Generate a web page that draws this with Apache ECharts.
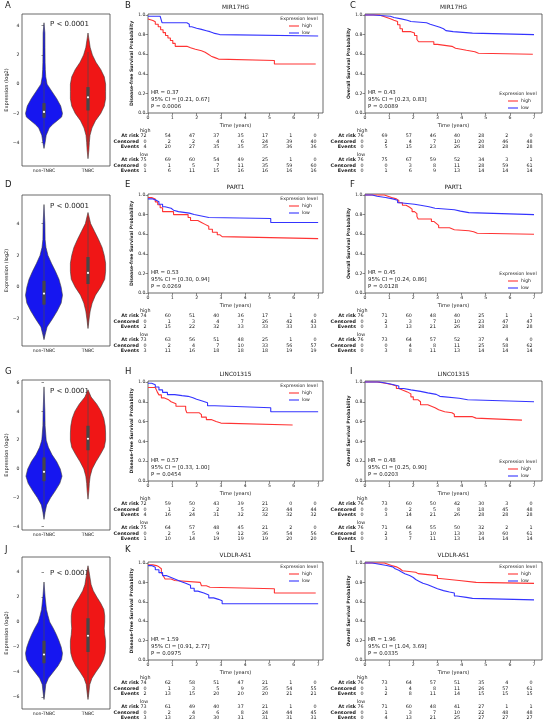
<!DOCTYPE html>
<html>
<head>
<meta charset="utf-8">
<script src="https://cdn.jsdelivr.net/npm/echarts@6/dist/echarts.min.js"></script>
<style>
html,body{margin:0;padding:0;background:#fff}
#main{width:550px;height:725px}
</style>
</head>
<body>
<div id="main"></div>
<script>
// ---- data ----
const genes = ['MIR17HG', 'PART1', 'LINC01315', 'VLDLR-AS1'];
const violinCats = ['non-TNBC', 'TNBC'];
const violinP = 'P < 0.0001';
const groups = ['high', 'low'];
const rowLabels = ['At risk', 'Censored', 'Events'];
const timeTicks = [0, 1, 2, 3, 4, 5, 6, 7];
const survTicks = [0, 0.2, 0.4, 0.6, 0.8, 1.0];

const yTicksA = [-4, -2, 0, 2, 4];
const yTicksD = [-2, 0, 2, 4];
const yTicksG = [-4, -2, 0, 2, 4, 6];
const yTicksJ = [-6, -4, -2, 0, 2, 4];

// violin outlines: [expression, half width]
const violinA_non = [[4.2,0],[3.5,0.02],[2.5,0.022],[1.5,0.025],[1,0.03],[0.5,0.04],[0,0.07],[-0.5,0.18],[-1,0.29],[-1.5,0.38],[-2,0.42],[-2.25,0.4],[-2.5,0.3],[-2.75,0.2],[-3,0.12],[-3.5,0.05],[-4,0.025],[-4.4,0]];
const violinA_tnbc = [[3.5,0],[3,0.025],[2.5,0.05],[2,0.1],[1.5,0.18],[1,0.29],[0.5,0.37],[0,0.4],[-0.5,0.4],[-1,0.4],[-1.5,0.37],[-2,0.29],[-2.5,0.17],[-3,0.09],[-3.5,0.045],[-4,0.03],[-4.5,0.02],[-5.1,0]];
const violinD_non = [[5.2,0],[4,0.02],[3,0.025],[2.5,0.045],[2,0.09],[1.5,0.17],[1,0.26],[0.5,0.34],[0,0.39],[-0.5,0.42],[-1,0.39],[-1.5,0.3],[-2,0.19],[-2.5,0.07],[-3,0.025],[-3.3,0]];
const violinD_tnbc = [[4.7,0],[4,0.06],[3.5,0.15],[3,0.24],[2.5,0.32],[2,0.37],[1.5,0.4],[1,0.4],[0.5,0.38],[0,0.29],[-0.5,0.17],[-1,0.095],[-1.5,0.05],[-2,0.025],[-2.6,0]];
const violinG_non = [[5.7,0],[4,0.02],[3,0.025],[2,0.05],[1.5,0.1],[1,0.18],[0.5,0.29],[0,0.37],[-0.5,0.41],[-1,0.36],[-1.5,0.26],[-2,0.15],[-2.5,0.06],[-3,0.025],[-3.5,0]];
const violinG_tnbc = [[5.5,0],[5,0.07],[4.5,0.2],[4,0.3],[3.5,0.36],[3,0.39],[2.5,0.4],[2,0.4],[1.5,0.37],[1,0.28],[0.5,0.18],[0,0.095],[-0.5,0.05],[-1,0.03],[-1.5,0.02],[-2.1,0]];
const violinJ_non = [[3.2,0],[2,0.025],[1,0.055],[0.5,0.09],[0,0.13],[-0.5,0.21],[-1,0.28],[-1.5,0.34],[-2,0.39],[-2.5,0.42],[-3,0.4],[-3.5,0.32],[-4,0.21],[-4.5,0.1],[-5,0.04],[-5.5,0.025],[-6.2,0]];
const violinJ_tnbc = [[4.5,0],[4,0.025],[3,0.07],[2.5,0.12],[2,0.2],[1.5,0.29],[1,0.36],[0.5,0.38],[0,0.38],[-0.5,0.37],[-1,0.38],[-1.5,0.4],[-2,0.4],[-2.5,0.39],[-3,0.35],[-3.5,0.28],[-4,0.18],[-4.5,0.09],[-5,0.04],[-5.5,0.025],[-6.2,0]];

// inner box: [whisker low, q1, median, q3, whisker high]
const boxA_non = [-3.8, -2.3, -1.9, -1.3, 0.2];
const boxA_tnbc = [-4.2, -1.8, -0.9, -0.2, 2.2];
const boxD_non = [-3.2, -1.1, -0.4, 0.4, 2.6];
const boxD_tnbc = [-2.4, 0.2, 0.9, 1.9, 4.4];
const boxG_non = [-3.3, -0.85, -0.2, 0.8, 3.3];
const boxG_tnbc = [-1.3, 1.3, 2.1, 3.0, 5.3];
const boxJ_non = [-6.0, -3.3, -2.6, -1.5, 1.2];
const boxJ_tnbc = [-6.0, -2.4, -1.1, 0.3, 4.3];

// Kaplan-Meier steps: [time, survival from this time on]
const kmB_high = [[0,0.96],[0.08,0.944],[0.2,0.93],[0.3,0.905],[0.42,0.88],[0.52,0.85],[0.62,0.82],[0.72,0.79],[0.82,0.765],[0.92,0.74],[1.02,0.71],[1.12,0.68],[1.6,0.665],[1.75,0.65],[1.95,0.635],[2.2,0.62],[2.35,0.6],[2.48,0.58],[2.6,0.565],[2.75,0.55],[2.9,0.535],[5.2,0.5],[6.9,0.5]];
const kmB_low = [[0,0.987],[0.5,0.973],[0.58,0.92],[1.6,0.905],[1.7,0.88],[1.8,0.865],[2.0,0.853],[2.2,0.84],[2.4,0.83],[2.55,0.815],[2.7,0.8],[2.95,0.785],[7.0,0.785]];
const kmC_high = [[0,1],[0.6,0.987],[0.75,0.974],[0.9,0.961],[1.05,0.947],[1.2,0.934],[1.35,0.9],[1.45,0.86],[1.55,0.83],[1.9,0.815],[2.05,0.79],[2.15,0.75],[2.22,0.727],[2.85,0.7],[3.0,0.68],[3.6,0.66],[3.75,0.64],[4.2,0.625],[4.55,0.61],[4.7,0.6],[6.95,0.6]];
const kmC_low = [[0,1],[0.35,0.987],[1.05,0.974],[1.2,0.96],[1.5,0.947],[1.75,0.934],[1.9,0.92],[2.55,0.905],[2.7,0.89],[2.9,0.875],[3.1,0.86],[3.25,0.84],[3.35,0.83],[3.65,0.815],[4.45,0.8],[7.0,0.8]];
const kmE_high = [[0,0.973],[0.15,0.96],[0.3,0.93],[0.4,0.9],[0.5,0.87],[0.6,0.83],[1.05,0.8],[1.65,0.77],[1.75,0.74],[2.05,0.72],[2.2,0.7],[2.35,0.68],[2.5,0.65],[2.65,0.62],[2.85,0.595],[2.95,0.575],[3.05,0.555],[7.0,0.555]];
const kmE_low = [[0,0.96],[0.2,0.945],[0.35,0.93],[0.45,0.905],[0.6,0.88],[0.7,0.865],[0.95,0.845],[1.05,0.83],[1.25,0.815],[1.7,0.8],[1.9,0.79],[2.1,0.78],[2.3,0.77],[2.5,0.76],[5.05,0.72],[7.0,0.72]];
const kmF_high = [[0,1],[0.8,0.987],[0.95,0.974],[1.1,0.96],[1.3,0.945],[1.4,0.92],[1.55,0.895],[1.7,0.875],[1.85,0.855],[1.95,0.83],[2.05,0.81],[2.15,0.78],[2.2,0.755],[2.75,0.73],[2.85,0.71],[2.95,0.69],[3.05,0.665],[3.5,0.645],[3.7,0.635],[4.3,0.625],[4.5,0.61],[4.65,0.6],[7.0,0.6]];
const kmF_low = [[0,1],[0.3,0.987],[0.5,0.974],[0.85,0.96],[1.15,0.947],[1.35,0.92],[1.45,0.905],[2.05,0.895],[2.3,0.88],[2.65,0.865],[2.9,0.85],[3.7,0.835],[3.95,0.82],[4.3,0.8],[7.0,0.8]];
const kmH_high = [[0,0.944],[0.3,0.93],[0.38,0.9],[0.45,0.87],[0.55,0.84],[0.65,0.82],[0.85,0.8],[0.95,0.78],[1.15,0.755],[1.55,0.72],[1.6,0.69],[2.1,0.67],[2.2,0.645],[2.4,0.62],[2.6,0.6],[2.8,0.585],[3.0,0.565],[5.95,0.565]];
const kmH_low = [[0,0.987],[0.15,0.973],[0.3,0.95],[0.45,0.92],[0.6,0.895],[0.8,0.872],[1.1,0.862],[1.4,0.855],[1.65,0.84],[1.85,0.825],[2.0,0.81],[2.2,0.79],[2.45,0.76],[2.75,0.74],[5.05,0.7],[7.0,0.7]];
const kmI_high = [[0,1],[0.5,0.987],[0.85,0.974],[1.1,0.96],[1.3,0.935],[1.4,0.92],[1.55,0.9],[1.75,0.88],[1.9,0.85],[2.0,0.82],[2.2,0.8],[2.3,0.77],[2.6,0.755],[2.75,0.74],[2.9,0.72],[3.05,0.7],[3.3,0.69],[3.6,0.675],[3.7,0.65],[4.45,0.635],[4.6,0.615],[6.5,0.615]];
const kmI_low = [[0,1],[0.6,0.987],[0.9,0.974],[1.15,0.96],[1.4,0.935],[1.6,0.92],[1.9,0.905],[2.3,0.89],[2.6,0.875],[2.95,0.855],[3.1,0.835],[3.9,0.82],[4.25,0.8],[7.0,0.8]];
const kmK_high = [[0,0.98],[0.2,0.973],[0.35,0.96],[0.45,0.94],[0.55,0.9],[0.62,0.87],[0.7,0.835],[0.95,0.82],[1.1,0.8],[2.15,0.785],[2.2,0.765],[2.4,0.75],[2.55,0.735],[5.2,0.69],[6.9,0.69]];
const kmK_low = [[0,0.973],[0.15,0.956],[0.3,0.93],[0.45,0.9],[0.6,0.87],[0.75,0.85],[0.95,0.83],[1.15,0.81],[1.35,0.79],[1.55,0.77],[1.75,0.74],[1.9,0.71],[2.05,0.69],[2.3,0.67],[2.5,0.64],[2.7,0.625],[2.9,0.61],[3.05,0.58],[7.0,0.58]];
const kmL_high = [[0,1],[0.8,0.987],[0.95,0.974],[1.1,0.96],[1.3,0.94],[1.45,0.92],[1.55,0.905],[2.1,0.89],[2.2,0.87],[3.0,0.84],[3.1,0.82],[3.9,0.8],[4.6,0.79],[7.0,0.79]];
const kmL_low = [[0,1],[0.3,0.987],[0.6,0.974],[0.9,0.96],[1.15,0.94],[1.25,0.925],[1.4,0.91],[1.5,0.89],[1.65,0.87],[1.85,0.85],[2.0,0.83],[2.1,0.81],[2.25,0.79],[2.4,0.775],[2.6,0.755],[2.8,0.735],[3.0,0.715],[3.25,0.7],[3.5,0.69],[3.7,0.66],[3.8,0.645],[4.2,0.635],[4.45,0.62],[7.0,0.62]];

// number-at-risk tables: [at risk], [censored], [events]
const riskB_high = [[72,54,47,37,35,17,1,0],[0,2,2,4,6,24,39,40],[4,20,27,35,35,35,36,36]];
const riskB_low  = [[75,69,60,54,49,25,1,0],[0,1,5,7,11,35,59,60],[1,6,11,15,16,16,16,16]];
const riskC_high = [[76,69,57,46,40,28,2,0],[0,2,4,7,10,20,46,48],[0,5,15,23,26,28,28,28]];
const riskC_low  = [[76,75,67,59,52,34,3,1],[0,0,3,8,11,28,59,61],[0,1,6,9,13,14,14,14]];
const riskE_high = [[74,60,51,40,36,17,1,0],[0,1,3,4,7,26,42,43],[2,15,22,32,33,33,33,33]];
const riskE_low  = [[73,63,56,51,48,25,1,0],[0,2,4,7,10,33,56,57],[3,11,16,18,18,18,19,19]];
const riskF_high = [[76,71,60,48,40,25,1,1],[0,2,3,7,10,23,47,47],[0,3,13,21,26,28,28,28]];
const riskF_low  = [[76,73,64,57,52,37,4,0],[0,0,4,8,11,25,58,62],[0,3,8,11,13,14,14,14]];
const riskH_high = [[72,59,50,43,39,21,0,0],[0,1,2,2,5,23,44,44],[4,16,24,31,32,32,32,32]];
const riskH_low  = [[75,64,57,48,45,21,2,0],[0,2,5,9,12,36,54,56],[1,10,14,19,19,19,20,20]];
const riskI_high = [[76,73,60,50,42,30,3,0],[0,0,2,5,8,18,45,48],[0,3,14,21,26,28,28,28]];
const riskI_low  = [[76,71,64,55,50,32,2,1],[0,2,5,10,13,30,60,61],[0,3,7,11,13,14,14,14]];
const riskK_high = [[74,62,58,51,47,21,1,0],[0,1,3,5,9,35,54,55],[2,13,15,20,20,20,21,21]];
const riskK_low  = [[73,61,49,40,37,21,1,0],[0,2,4,6,8,24,44,45],[3,13,23,30,31,31,31,31]];
const riskL_high = [[76,73,64,57,51,35,4,0],[0,1,4,8,11,26,57,61],[0,2,8,11,14,15,15,15]];
const riskL_low  = [[76,71,60,48,41,27,1,1],[0,1,3,7,10,22,48,48],[0,4,13,21,25,27,27,27]];

const statsB = ['HR = 0.37', '95% CI = [0.21, 0.67]', 'P = 0.0006'];
const statsC = ['HR = 0.43', '95% CI = [0.23, 0.83]', 'P = 0.0089'];
const statsE = ['HR = 0.53', '95% CI = [0.30, 0.94]', 'P = 0.0269'];
const statsF = ['HR = 0.45', '95% CI = [0.24, 0.86]', 'P = 0.0128'];
const statsH = ['HR = 0.57', '95% CI = [0.33, 1.00]', 'P = 0.0454'];
const statsI = ['HR = 0.48', '95% CI = [0.25, 0.90]', 'P = 0.0203'];
const statsK = ['HR = 1.59', '95% CI = [0.91, 2.77]', 'P = 0.0975'];
const statsL = ['HR = 1.96', '95% CI = [1.04, 3.69]', 'P = 0.0335'];

// ---- layout ----
const FONT = 'DejaVu Sans';
const INK = '#1a1a1a';
const FRAME = '#444';
const violinFill = ['#1616f0', '#f01616'];
const kmColor = ['#ff3434', '#3434ff'];
const DFS = 'Disease-free Survival Probability';
const OS = 'Overall Survival Probability';

const vTop = [14, 195, 380, 557], vBot = [166, 346, 530, 709];
const kTop = [14, 194, 381, 562], kBot = [113, 293, 481, 660];
const letterY = [6, 185, 372, 550];
const pY = [24, 206, 391, 573];

const rows = [
  { letters: ['A','B','C'], ticks: yTicksA, range: [-5.6, 4.8], prof: [violinA_non, violinA_tnbc], box: [boxA_non, boxA_tnbc],
    km: [ { curves: [kmB_high, kmB_low], risk: [riskB_high, riskB_low], stats: statsB, yName: DFS, leg: 'upper' },
          { curves: [kmC_high, kmC_low], risk: [riskC_high, riskC_low], stats: statsC, yName: OS, leg: 'lower' } ] },
  { letters: ['D','E','F'], ticks: yTicksD, range: [-3.7, 5.8], prof: [violinD_non, violinD_tnbc], box: [boxD_non, boxD_tnbc],
    km: [ { curves: [kmE_high, kmE_low], risk: [riskE_high, riskE_low], stats: statsE, yName: DFS, leg: 'upper' },
          { curves: [kmF_high, kmF_low], risk: [riskF_high, riskF_low], stats: statsF, yName: OS, leg: 'lower' } ] },
  { letters: ['G','H','I'], ticks: yTicksG, range: [-4.24, 6.18], prof: [violinG_non, violinG_tnbc], box: [boxG_non, boxG_tnbc],
    km: [ { curves: [kmH_high, kmH_low], risk: [riskH_high, riskH_low], stats: statsH, yName: DFS, leg: 'upper' },
          { curves: [kmI_high, kmI_low], risk: [riskI_high, riskI_low], stats: statsI, yName: OS, leg: 'lower' } ] },
  { letters: ['J','K','L'], ticks: yTicksJ, range: [-6.96, 5.2], prof: [violinJ_non, violinJ_tnbc], box: [boxJ_non, boxJ_tnbc],
    km: [ { curves: [kmK_high, kmK_low], risk: [riskK_high, riskK_low], stats: statsK, yName: DFS, leg: 'upper' },
          { curves: [kmL_high, kmL_low], risk: [riskL_high, riskL_low], stats: statsL, yName: OS, leg: 'upper' } ] }
];

const kmLeft = [148, 365], kmWidth = [175, 177], kmMax = [7.2, 7.33];

function fmtNum(v) { return v < 0 ? '\u2212' + Math.abs(v) : String(v); }

function tickStyle(vals) {
  return { customValues: vals, length: 2.5, lineStyle: { color: FRAME, width: 0.6 } };
}
function labelStyle(vals, fmt, margin) {
  return { customValues: vals, formatter: fmt, fontSize: 4.6, color: INK, fontFamily: FONT, margin: margin };
}

function makeViolin(profs, boxes) {
  return function (params, api) {
    const i = params.dataIndex;
    const prof = profs[i], box = boxes[i];
    const right = prof.map(p => api.coord([i + p[1], p[0]]));
    const left = prof.slice().reverse().map(p => api.coord([i - p[1], p[0]]));
    const c = v => api.coord([i, v]);
    const lo = c(box[0]), q1 = c(box[1]), md = c(box[2]), q3 = c(box[3]), hi = c(box[4]);
    return { type: 'group', children: [
      { type: 'polygon', shape: { points: right.concat(left) },
        style: { fill: violinFill[i], stroke: '#3a3a3a', lineWidth: 0.6, lineJoin: 'round' } },
      { type: 'line', shape: { x1: lo[0], y1: lo[1], x2: hi[0], y2: hi[1] }, style: { stroke: '#4a4a4a', lineWidth: 0.7 } },
      { type: 'rect', shape: { x: q3[0] - 1.6, y: q3[1], width: 3.2, height: q1[1] - q3[1] }, style: { fill: '#474747' } },
      { type: 'circle', shape: { cx: md[0], cy: md[1], r: 1.1 }, style: { fill: '#fff' } }
    ] };
  };
}

const option = {
  animation: false,
  backgroundColor: '#fff',
  textStyle: { fontFamily: FONT },
  grid: [], xAxis: [], yAxis: [], series: []
};
const kmGrids = [];

rows.forEach((row, r) => {
  const gi = option.grid.length;
  option.grid.push({ left: 22, top: vTop[r], width: 88, height: vBot[r] - vTop[r], show: true,
    borderColor: FRAME, borderWidth: 0.8, outerBoundsMode: 'none' });
  option.xAxis.push({ type: 'value', gridIndex: gi, min: -0.5, max: 1.5,
    axisLine: { show: false }, splitLine: { show: false },
    axisTick: tickStyle([0, 1]), axisLabel: labelStyle([0, 1], v => violinCats[Math.round(v)], 2) });
  option.yAxis.push({ type: 'value', gridIndex: gi, min: row.range[0], max: row.range[1],
    axisLine: { show: false }, splitLine: { show: false },
    axisTick: tickStyle(row.ticks), axisLabel: labelStyle(row.ticks, fmtNum, 2.5),
    name: 'Expression (log2)', nameLocation: 'middle', nameGap: 6.5,
    nameTextStyle: { fontSize: 5, color: INK, fontFamily: FONT } });
  option.series.push({ type: 'custom', xAxisIndex: gi, yAxisIndex: gi, silent: true,
    data: [[0, 0], [1, 0]], renderItem: makeViolin(row.prof, row.box) });

  row.km.forEach((k, c) => {
    const kg = option.grid.length;
    option.grid.push({ left: kmLeft[c], top: kTop[r], width: kmWidth[c], height: kBot[r] - kTop[r], show: true,
      borderColor: FRAME, borderWidth: 0.8, outerBoundsMode: 'none' });
    option.xAxis.push({ type: 'value', gridIndex: kg, min: 0, max: kmMax[c],
      axisLine: { show: false }, splitLine: { show: false },
      axisTick: tickStyle(timeTicks), axisLabel: labelStyle(timeTicks, v => String(v), 2.5),
      name: 'Time (years)', nameLocation: 'middle', nameGap: 10,
      nameTextStyle: { fontSize: 5, color: INK, fontFamily: FONT } });
    option.yAxis.push({ type: 'value', gridIndex: kg, min: 0, max: 1.01,
      axisLine: { show: false }, splitLine: { show: false },
      axisTick: tickStyle(survTicks), axisLabel: labelStyle(survTicks, v => v.toFixed(1), 2.5),
      name: k.yName, nameLocation: 'middle', nameGap: 13,
      nameTextStyle: { fontSize: 4.6, color: INK, fontFamily: FONT, fontWeight: 'bold' } });
    k.curves.forEach((curve, j) => {
      option.series.push({ type: 'line', name: groups[j], xAxisIndex: kg, yAxisIndex: kg, data: curve,
        step: 'end', showSymbol: false, silent: true,
        lineStyle: { color: kmColor[j], width: 1.1 } });
    });
    kmGrids.push({ gi: kg, r: r, c: c, k: k });
  });
});

const chart = echarts.init(document.getElementById('main'), null, { renderer: 'canvas' });
chart.setOption(option);

// ---- text placed from the axes' own pixel positions ----
function txt(x, y, s, size, align, weight) {
  return { type: 'text', x: x, y: y, silent: true,
    style: { text: s, fontSize: size, fontFamily: FONT, fill: INK, textAlign: align || 'left',
      textVerticalAlign: 'middle', fontWeight: weight || 'normal' } };
}
const g = [];
rows.forEach((row, r) => {
  g.push(txt(5, letterY[r], row.letters[0], 8.5));
  g.push(txt(125, letterY[r], row.letters[1], 8.5));
  g.push(txt(350, letterY[r], row.letters[2], 8.5));
  g.push(txt(50, pY[r], violinP, 7));
});

kmGrids.forEach(({ gi, r, c, k }) => {
  const px = t => chart.convertToPixel({ gridIndex: gi }, [t, 0])[0];
  const x0 = px(0), R = px(kmMax[c]);
  const top = kTop[r], bot = kBot[r];
  g.push(txt((x0 + R) / 2, top - 6.5, genes[r], 5.8, 'center'));
  // statistics
  k.stats.forEach((s, i) => g.push(txt(x0 + 3, bot - 20 + i * 7, s, 5.4)));
  // legend
  const ly = k.leg === 'upper' ? [top + 5, top + 12, top + 19] : [bot - 19, bot - 12, bot - 5];
  g.push(txt(R - 24, ly[0], 'Expression level', 4.6, 'center'));
  groups.forEach((name, j) => {
    g.push({ type: 'line', silent: true, shape: { x1: R - 34, y1: ly[j + 1], x2: R - 24, y2: ly[j + 1] },
      style: { stroke: kmColor[j], lineWidth: 1.1 } });
    g.push(txt(R - 21, ly[j + 1], name, 4.6));
  });
  // risk table
  const base = [bot + 18, bot + 42];
  const rowOff = [5, 10.5, 16];
  k.risk.forEach((tbl, j) => {
    g.push(txt(x0 - 8, base[j], groups[j], 4.8));
    tbl.forEach((vals, i) => {
      const y = base[j] + rowOff[i];
      g.push(txt(x0 - 9, y, rowLabels[i], 4.8, 'right', 'bold'));
      vals.forEach((v, t) => g.push(txt(px(timeTicks[t]) - 1.5, y, String(v), 4.8, 'right')));
    });
  });
});
chart.setOption({ graphic: g });
</script>
</body>
</html>
